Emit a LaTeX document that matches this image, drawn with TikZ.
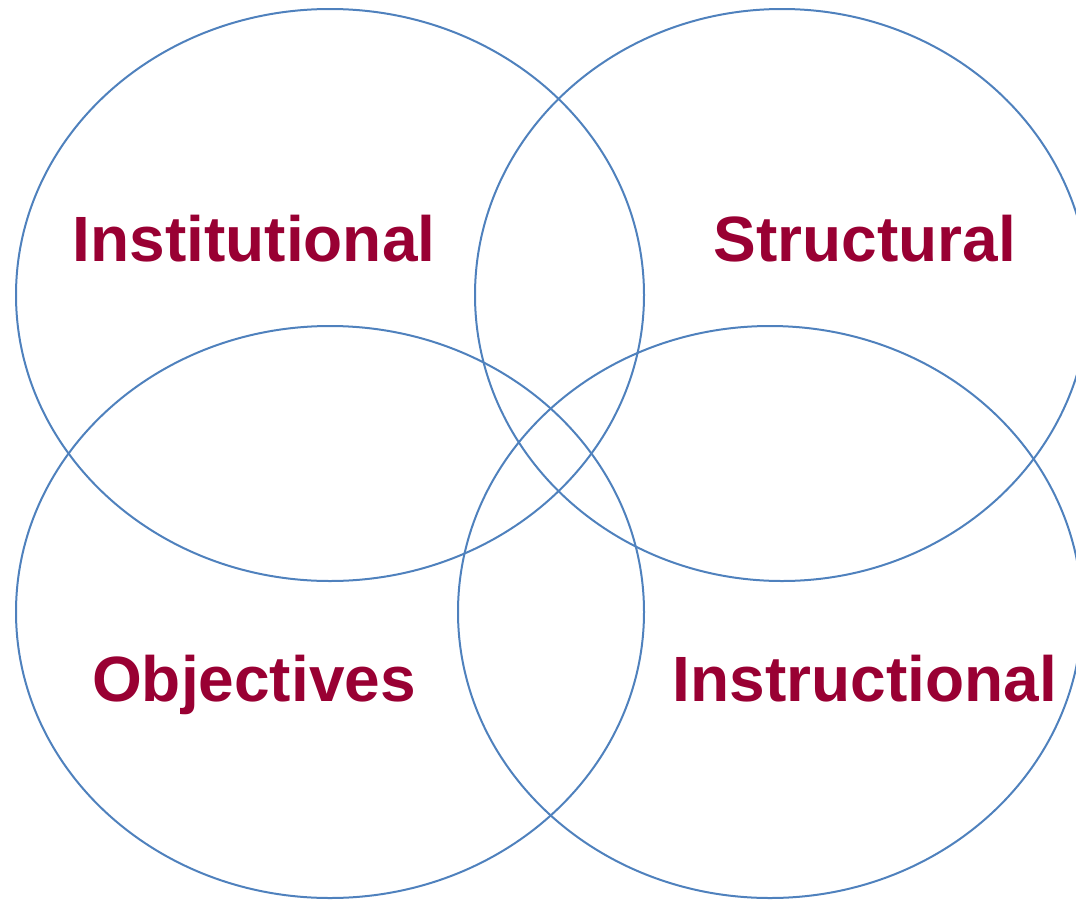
\documentclass[tikz,border=0pt]{standalone}
\usepackage{fontspec}
\setmainfont{Liberation Sans}
\begin{document}
\begin{tikzpicture}[x=1pt,y=-1pt,
  ring/.style={draw=ringblue, line width=2pt},
  lbl/.style={text=lblred, font=\fontsize{64}{70}\selectfont\bfseries, anchor=base, inner sep=0pt}]
\definecolor{ringblue}{HTML}{4F81BD}
\definecolor{lblred}{HTML}{990033}
\useasboundingbox (0,0) rectangle (1076,900);
\clip (0,0) rectangle (1076,900);
\draw[ring] (330,295) ellipse [x radius=314, y radius=286];
\draw[ring] (782,295) ellipse [x radius=307, y radius=286];
\draw[ring] (330,612) ellipse [x radius=314, y radius=286];
\draw[ring] (770,612) ellipse [x radius=312, y radius=286];
\node[lbl] (inst) at (254,261) {Institutional};
\node[lbl] (stru) at (865,261) {Structural};
\node[lbl] (obj) at (254,701) {Objectives};
\node[lbl] (instr) at (865,701) {Instructional};
\end{tikzpicture}
\end{document}
